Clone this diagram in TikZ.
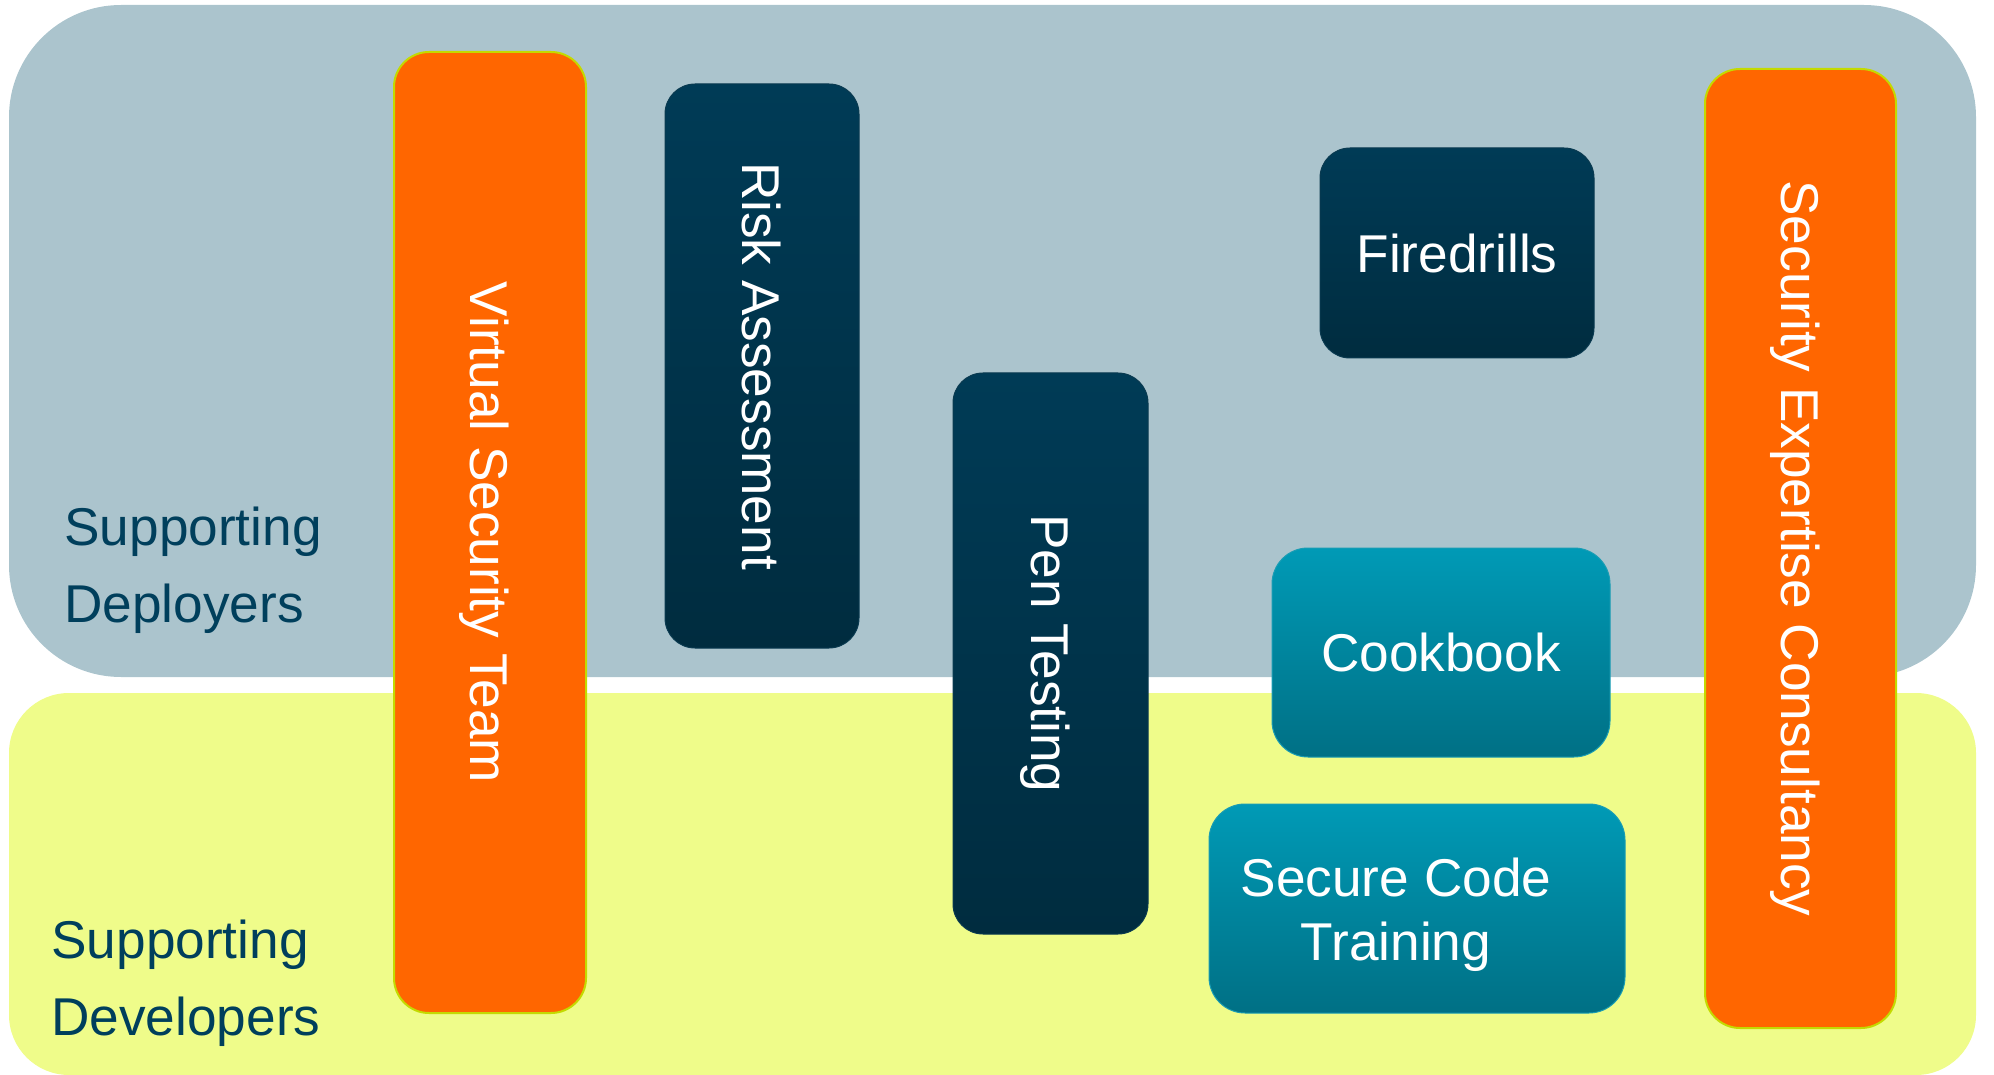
\documentclass[tikz,border=0pt]{standalone}
\usepackage{fontspec}
\setmainfont{Liberation Sans}
\usetikzlibrary{fit}
\definecolor{panelblue}{HTML}{ABC4CD}
\definecolor{panelyellow}{HTML}{EFFC8A}
\definecolor{orangebox}{HTML}{FF6600}
\definecolor{orangeedge}{HTML}{C4DA00}
\definecolor{darktop}{HTML}{003B56}
\definecolor{darkbot}{HTML}{002C3F}
\definecolor{darkedge}{HTML}{0A3A50}
\definecolor{tealtop}{HTML}{009AB6}
\definecolor{tealbot}{HTML}{007085}
\definecolor{tealedge}{HTML}{1A9DB4}
\definecolor{labeltext}{HTML}{003F5C}
\begin{document}
\begin{tikzpicture}[x=0.5pt,y=-0.5pt,
  panelbox/.style={inner sep=0pt, draw=none},
  orangebar/.style={inner sep=0pt, fill=orangebox, draw=orangeedge, line width=1pt, rounded corners=17.5pt},
  darkbox/.style={inner sep=0pt, top color=darktop, bottom color=darkbot, draw=darkedge, line width=0.5pt, rounded corners=15pt},
  tealbox/.style={inner sep=0pt, top color=tealtop, bottom color=tealbot, draw=tealedge, line width=0.5pt, rounded corners=18pt},
  boxtext/.style={text=white, font=\fontsize{26.6}{32}\selectfont, inner sep=0pt, text height=19.1pt, text depth=0pt},
  multitext/.style={text=white, font=\fontsize{26.6}{32}\selectfont, inner sep=0pt, align=center},
  sidelabel/.style={text=labeltext, font=\fontsize{26.6}{38.5}\selectfont, inner sep=0pt, align=left, anchor=base west}
]
\useasboundingbox (0,0) rectangle (1994,1075);

% panels
\node[panelbox, fill=panelblue, rounded corners=56pt, fit={(9,5)(1976,677)}] (deployers) {};
\node[panelbox, fill=panelyellow, rounded corners=30pt, fit={(9,693)(1976,1075)}] (developers) {};

% side labels (anchor at baseline of last line)
\node[sidelabel] (deplabel) at (64,622) {Supporting\\Deployers};
\node[sidelabel] (devlabel) at (51,1035) {Supporting\\Developers};

% orange bars
\node[orangebar, fit={(394,52)(586,1013)}] (vst) {};
\node[boxtext, rotate=-90] (vsttext) at (vst.center) {Virtual Security Team};

\node[orangebar, fit={(1705,69)(1896,1028)}] (sec) {};
\node[boxtext, rotate=-90] (sectext) at (sec.center) {Security Expertise Consultancy};

% dark boxes
\node[darkbox, fit={(665,84)(859,648)}] (risk) {};
\node[boxtext, rotate=-90] (risktext) at (risk.center) {Risk Assessment};

\node[darkbox, fit={(953,373)(1148,934)}] (pen) {};
\node[boxtext, rotate=-90] (pentext) at (pen.center) {Pen Testing};

\node[darkbox, fit={(1320,148)(1594,358)}] (fire) {};
\node[boxtext] (firetext) at (fire.center) {Firedrills};

% teal boxes
\node[tealbox, fit={(1272,548)(1610,757)}] (cook) {};
\node[boxtext] (cooktext) at (cook.center) {Cookbook};

\node[tealbox, fit={(1209,804)(1625,1013)}] (train) {};
\node[multitext] (traintext) at (1396,915) {Secure Code\\Training};
\end{tikzpicture}
\end{document}
